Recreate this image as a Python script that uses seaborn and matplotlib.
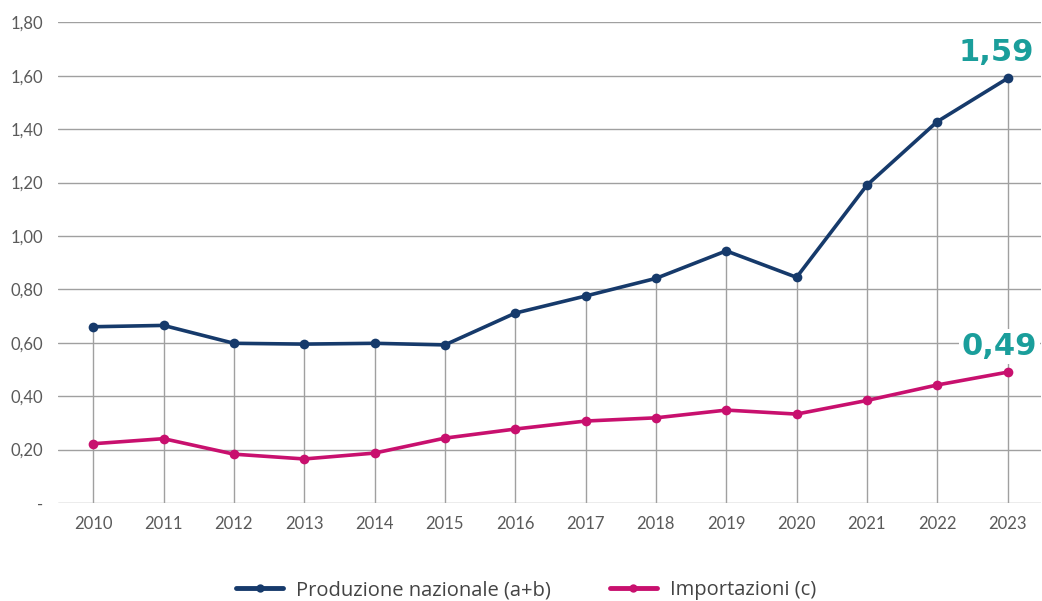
import matplotlib
matplotlib.use("Agg")
import matplotlib.pyplot as plt
import seaborn as sns
import pandas as pd
from matplotlib.ticker import FuncFormatter

years = ["2010", "2011", "2012", "2013", "2014", "2015", "2016",
         "2017", "2018", "2019", "2020", "2021", "2022", "2023"]
produzione = [0.66, 0.665, 0.598, 0.595, 0.598, 0.592, 0.711,
              0.775, 0.841, 0.944, 0.845, 1.19, 1.428, 1.59]
importazioni = [0.222, 0.241, 0.183, 0.165, 0.187, 0.243, 0.277,
                0.307, 0.319, 0.348, 0.333, 0.384, 0.442, 0.49]
serie_labels = ["Produzione nazionale (a+b)", "Importazioni (c)"]
colors = ["#163a6b", "#c8106e"]
annot_color = "#1a9e9b"

df = pd.DataFrame({
    "anno": years * 2,
    "valore": produzione + importazioni,
    "serie": [serie_labels[0]] * len(years) + [serie_labels[1]] * len(years),
})
df["x"] = list(range(len(years))) * 2

sns.set_style("white")
plt.rcParams["font.family"] = ["Lato", "DejaVu Sans"]

fig = plt.figure(figsize=(10.42, 6.01), dpi=100)
ax = fig.add_axes([0.0557, 0.163, 0.943, 0.8])

sns.lineplot(data=df, x="x", y="valore", hue="serie", palette=colors,
             marker="o", markersize=7, markeredgewidth=0, linewidth=2.6,
             ax=ax, zorder=4)

# drop lines from axis to upper series
ax.vlines(range(len(years)), 0, produzione, color="#a0a0a0", linewidth=1.0, zorder=1)
for yv in [0.2 * i for i in range(10)]:
    ax.axhline(yv, color="#a0a0a0", linewidth=1.0, zorder=1)

ax.set_xlim(-0.5, 13.47)
ax.set_ylim(0, 1.80)
ax.set_yticks([0.2 * i for i in range(10)])
ax.yaxis.set_major_formatter(FuncFormatter(lambda v, p: "-" if abs(v) < 1e-9 else f"{v:.2f}".replace(".", ",")))
ax.set_xticks(range(len(years)))
ax.set_xticklabels(years)
ax.tick_params(axis="both", length=0, labelsize=12, labelcolor="#5a5a5a")
ax.tick_params(axis="y", pad=11)
ax.tick_params(axis="x", pad=9)
ax.set_xlabel("")
ax.set_ylabel("")
for s in ax.spines.values():
    s.set_visible(False)

bbox = dict(facecolor="white", edgecolor="none", pad=2)
ax.annotate(f"{produzione[-1]:.2f}".replace(".", ","), (13, produzione[-1]),
            xytext=(-8, 8), textcoords="offset points", ha="center", va="bottom",
            fontsize=22, fontweight="bold", color=annot_color,
            family=["DejaVu Sans"], bbox=bbox, zorder=5)
ax.annotate(f"{importazioni[-1]:.2f}".replace(".", ","), (13, importazioni[-1]),
            xytext=(-6, 8), textcoords="offset points", ha="center", va="bottom",
            fontsize=22, fontweight="bold", color=annot_color,
            family=["DejaVu Sans"], bbox=bbox, zorder=5)

handles, labels = ax.get_legend_handles_labels()
for h in handles:
    h.set_linewidth(3.5)
    h.set_markersize(6)
ax.legend_.remove()
leg = fig.legend(handles, labels, loc="center", bbox_to_anchor=(0.505, 0.018),
                 ncol=2, frameon=False, handlelength=2.35,
                 columnspacing=2.9, handletextpad=0.65,
                 prop={"family": ["Open Sans", "DejaVu Sans"], "size": 14.5})
for t in leg.get_texts():
    t.set_color("#444444")

fig.savefig("out.png", dpi=100)
